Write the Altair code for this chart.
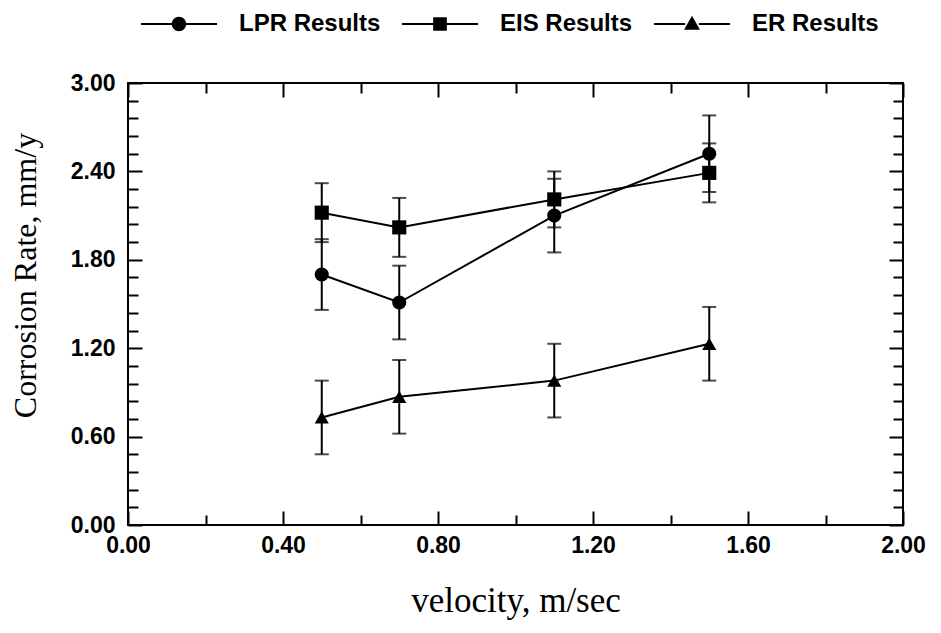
import altair as alt
import pandas as pd

# ---- data ----
series_names = ["LPR Results", "EIS Results", "ER Results"]
velocity = [0.5, 0.7, 1.1, 1.5]
lpr_rate = [1.70, 1.51, 2.10, 2.52]
lpr_err = [0.24, 0.25, 0.25, 0.26]
eis_rate = [2.12, 2.02, 2.21, 2.39]
eis_err = [0.20, 0.20, 0.19, 0.20]
er_rate = [0.73, 0.87, 0.98, 1.23]
er_err = [0.25, 0.25, 0.25, 0.25]

x_major = [0.0, 0.4, 0.8, 1.2, 1.6, 2.0]
x_minor = [0.2, 0.6, 1.0, 1.4, 1.8]
y_major = [0.0, 0.6, 1.2, 1.8, 2.4, 3.0]
y_minor = [0.12, 0.24, 0.36, 0.48, 0.72, 0.84, 0.96, 1.08, 1.32, 1.44, 1.56, 1.68,
           1.92, 2.04, 2.16, 2.28, 2.52, 2.64, 2.76, 2.88]

rows = []
for name, vals, errs in zip(series_names, [lpr_rate, eis_rate, er_rate], [lpr_err, eis_err, er_err]):
    for v, r, e in zip(velocity, vals, errs):
        rows.append({"series": name, "v": v, "rate": r, "lo": r - e, "hi": r + e})
df = pd.DataFrame(rows)

marker_shapes = ["circle", "square", "triangle-up"]
# legend glyphs: short line segments (thin filled bars) on both sides of the marker
_bars = "M-1,-0.027H-0.18V0.027H-1Z M0.18,-0.027H1V0.027H0.18Z "
legend_paths = [
    _bars + "M-0.19,0A0.19,0.19,0,1,1,0.19,0A0.19,0.19,0,1,1,-0.19,0Z",
    _bars + "M-0.18,-0.18H0.18V0.18H-0.18Z",
    _bars + "M0,-0.22L0.21,0.15L-0.21,0.15Z",
]

XDOM = [0, 2]
YDOM = [0, 3]
LBL = "Liberation Sans"
SERIF = "Liberation Serif"


def xax(values, size, labels, orient, title=None):
    kw = dict(values=values, orient=orient, tickSize=size, offset=-size, domain=False,
              grid=False, labels=labels, tickColor="black", tickWidth=2)
    if labels:
        kw.update(labelFont=LBL, labelFontWeight="bold", labelFontSize=23, labelColor="black",
                  labelPadding=9, format=".2f", labelFlush=False, labelOverlap=False)
    if title:
        kw.update(title=title, titleFont=SERIF, titleFontWeight="normal", titleFontSize=35,
                  titleColor="black", titlePadding=26)
    else:
        kw.update(title=None)
    return alt.Axis(**kw)


def yax(values, size, labels, orient, title=None):
    kw = dict(values=values, orient=orient, tickSize=size, offset=-size, domain=False,
              grid=False, labels=labels, tickColor="black", tickWidth=2)
    if labels:
        kw.update(labelFont=LBL, labelFontWeight="bold", labelFontSize=23, labelColor="black",
                  labelPadding=13, format=".2f", labelFlush=False, labelOverlap=False)
    if title:
        kw.update(title=title, titleFont=SERIF, titleFontWeight="normal", titleFontSize=32,
                  titleColor="black", titlePadding=28, titleY=192)
    else:
        kw.update(title=None)
    return alt.Axis(**kw)


def xs(axis):
    return alt.X("v:Q", scale=alt.Scale(domain=XDOM, nice=False, zero=False), axis=axis)


def ys(field, axis):
    return alt.Y(field, scale=alt.Scale(domain=YDOM, nice=False), axis=axis)


base = alt.Chart(df)

err_rules = base.mark_rule(color="black", strokeWidth=2).encode(
    x=xs(xax(x_major, 14, True, "bottom", "velocity, m/sec")),
    y=ys("lo:Q", yax(y_major, 14, True, "left", "Corrosion Rate, mm/y")),
    y2="hi:Q",
)

caps = base.transform_fold(["lo", "hi"], as_=["end", "val"]).mark_tick(
    orient="horizontal", size=14, thickness=2, color="black"
).encode(
    x=xs(xax(x_minor, 10, False, "bottom")),
    y=ys("val:Q", yax(y_minor, 10, False, "left")),
)

lines = base.mark_line(color="black", strokeWidth=2).encode(
    x=xs(xax(x_major, 14, False, "top")),
    y=ys("rate:Q", yax(y_major, 14, False, "right")),
    detail="series:N",
)

point_layers = []
for i, (name, shp) in enumerate(zip(series_names, marker_shapes)):
    if i == 0:
        xa, ya = xax(x_minor, 10, False, "top"), yax(y_minor, 10, False, "right")
    else:
        xa, ya = None, None
    point_layers.append(
        base.transform_filter(alt.datum.series == name).mark_point(
            filled=True, color="black", opacity=1, size=200, shape=shp
        ).encode(x=xs(xa), y=ys("rate:Q", ya))
    )

legend_layer = base.transform_filter("false").mark_point(
    filled=True, color="black", opacity=1
).encode(
    shape=alt.Shape(
        "series:N",
        scale=alt.Scale(domain=series_names, range=legend_paths),
        legend=alt.Legend(
            title=None, orient="none", direction="horizontal",
            legendX=12, legendY=-98, padding=0,
            symbolSize=5776, symbolFillColor="black", symbolOpacity=1,
            labelFont=LBL, labelFontWeight="bold", labelFontSize=24, labelColor="black",
            labelOffset=21, columnPadding=18, labelLimit=400,
        ),
    ),
)

chart = alt.layer(err_rules, caps, lines, *point_layers, legend_layer).resolve_axis(
    x="independent", y="independent"
).properties(
    width=775, height=442,
    autosize=alt.AutoSizeParams(type="none"),
    padding={"left": 120, "top": 75, "right": 30, "bottom": 100},
    background="white",
).configure_view(stroke="black", strokeWidth=2)

chart.save("out.html", embed_options={"renderer": "svg", "actions": False})
